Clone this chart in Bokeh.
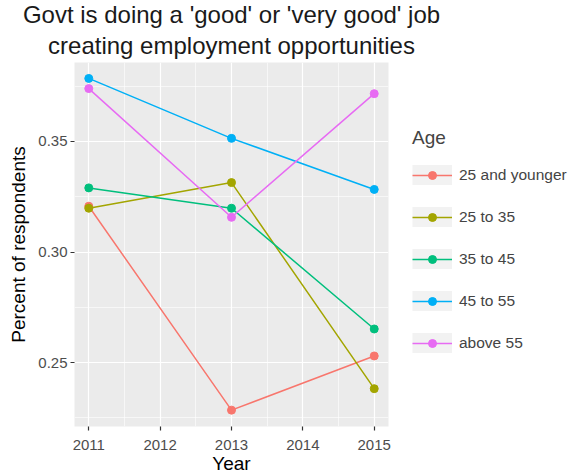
import math
from bokeh.plotting import figure
from bokeh.models import Legend, LegendItem, FixedTicker, Title, Range1d
from bokeh.embed import file_html
from bokeh.resources import INLINE

years = [2011, 2013, 2015]
groups = ["25 and younger", "25 to 35", "35 to 45", "45 to 55", "above 55"]
values = {
    "25 and younger": [0.3207, 0.2285, 0.2530],
    "25 to 35": [0.3198, 0.3314, 0.2382],
    "35 to 45": [0.3290, 0.3198, 0.2652],
    "45 to 55": [0.3785, 0.3514, 0.3283],
    "above 55": [0.3739, 0.3157, 0.3716],
}
colors = ["#F8766D", "#A3A500", "#00BF7D", "#00B0F6", "#E76BF3"]
x_ticks = [2011, 2012, 2013, 2014, 2015]
y_ticks = [0.25, 0.30, 0.35]
y_tick_labels = ["0.25", "0.30", "0.35"]
title_lines = ["Govt is doing a 'good' or 'very good' job", "creating employment opportunities"]

FONT = "Liberation Sans"

p = figure(frame_width=314, frame_height=364, output_backend="svg", toolbar_location=None,
           x_range=Range1d(2010.8, 2015.2), y_range=Range1d(0.2211, 0.3857),
           min_border_left=5, min_border_top=5, min_border_bottom=5,
           min_border_right=5)
p.margin = (0, 0, 0, 5)

p.background_fill_color = "#EBEBEB"
p.border_fill_color = "white"
p.outline_line_color = None

p.xaxis.ticker = FixedTicker(ticks=x_ticks, minor_ticks=[2010.5, 2011.5, 2012.5, 2013.5, 2014.5])
p.yaxis.ticker = FixedTicker(ticks=y_ticks, minor_ticks=[0.225, 0.275, 0.325, 0.375])
p.yaxis.major_label_overrides = {t: l for t, l in zip(y_ticks, y_tick_labels)}

for ax in (p.xaxis, p.yaxis):
    ax.axis_line_color = None
    ax.major_tick_line_color = "#333333"
    ax.major_tick_line_width = 1.2
    ax.major_tick_in = 0
    ax.major_tick_out = 4
    ax.minor_tick_line_color = None
    ax.major_label_text_font = FONT
    ax.major_label_text_font_size = "15px"
    ax.major_label_text_color = "#4D4D4D"
    ax.axis_label_text_font = FONT
    ax.axis_label_text_font_size = "19px"
    ax.axis_label_text_font_style = "normal"
    ax.axis_label_text_color = "black"

p.xaxis.axis_label = "Year"
p.yaxis.axis_label = "Percent of respondents"
p.xaxis.major_label_standoff = 9
p.yaxis.major_label_standoff = 3
p.xaxis.axis_label_standoff = 0
p.yaxis.axis_label_standoff = 6

for g in (p.xgrid, p.ygrid):
    g.grid_line_color = "white"
    g.grid_line_width = 1.2
    g.minor_grid_line_color = "white"
    g.minor_grid_line_width = 0.6

items = []
for name, col in zip(groups, colors):
    bg = p.line(x=[math.nan], y=[math.nan], line_color="#F2F2F2", line_width=40)
    ln = p.line(x=years, y=values[name], line_color=col, line_width=1.5)
    sc = p.scatter(x=years, y=values[name], size=8, fill_color=col, line_color=col)
    items.append(LegendItem(label=name, renderers=[bg, ln, sc]))

legend = Legend(items=items, location=(24, 73), title="Age",
                title_text_font=FONT, title_text_font_size="19px",
                title_text_font_style="normal", title_standoff=16,
                label_text_font=FONT, label_text_font_size="15.5px",
                glyph_width=40, glyph_height=20, label_height=20,
                spacing=22, padding=0, margin=0, label_standoff=7,
                border_line_color=None, background_fill_alpha=0)
p.add_layout(legend, "right")

p.add_layout(Title(text=title_lines[1], align="center",
                   text_font=FONT, text_font_size="24px", text_font_style="normal",
                   text_color="#1A1A1A", standoff=7), "above")
p.add_layout(Title(text=title_lines[0], align="center",
                   text_font=FONT, text_font_size="24px", text_font_style="normal",
                   text_color="#1A1A1A", standoff=-3), "above")

open("out.html", "w").write(file_html(p, INLINE))
